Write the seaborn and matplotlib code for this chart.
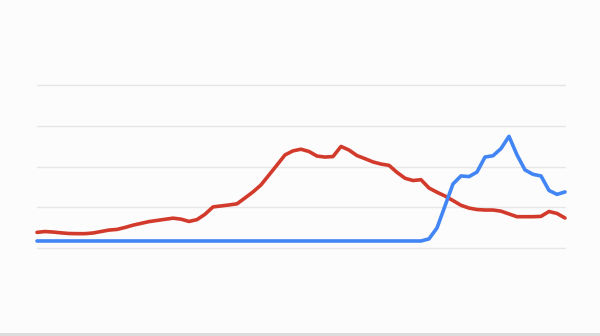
import numpy as np
import pandas as pd
import matplotlib
matplotlib.use("Agg")
import matplotlib.pyplot as plt
import seaborn as sns
from matplotlib.patches import Rectangle

# Data (values on a 0-100 scale)
red_values = [9.6, 10.1, 9.8, 9.3, 8.9, 8.8, 8.8, 9.2, 10.1, 11.0,
              11.4, 12.6, 14.0, 15.1, 16.2, 16.9, 17.6, 18.3, 17.7, 16.3,
              17.4, 20.7, 25.2, 25.8, 26.4, 27.1, 30.7, 34.4, 38.7, 44.8,
              50.9, 57.1, 59.6, 60.6, 59.2, 56.4, 55.8, 56.1, 62.3, 60.1,
              56.7, 54.8, 52.8, 51.5, 50.7, 46.4, 42.8, 41.4, 41.9, 36.8,
              34.2, 31.9, 29.1, 26.2, 24.5, 23.6, 23.3, 23.3, 22.6, 20.9,
              19.2, 19.2, 19.2, 19.4, 22.4, 21.2, 18.4]
blue_values = [4.3] * 49 + [5.6, 12.3, 25.8, 39.3, 44.2, 43.8, 46.6, 55.8, 56.6,
                            61.0, 68.5, 57.1, 47.9, 45.2, 44.2, 35.3, 32.9, 34.4]
periods = list(range(len(red_values)))
series_names = ["Red", "Blue"]
gridline_values = [0, 25, 50, 75, 100]

df = pd.DataFrame({
    "period": periods + periods,
    "value": red_values + blue_values,
    "series": [series_names[0]] * len(periods) + [series_names[1]] * len(periods),
})

sns.set_theme(style="white")
fig = plt.figure(figsize=(6, 3.36), dpi=100)
fig.patch.set_facecolor("#fcfcfc")
ax = fig.add_axes([37 / 600, (336 - 248) / 336, 528 / 600, (248 - 85) / 336])
ax.set_facecolor("#fcfcfc")

for g in gridline_values:
    ax.axhline(g, color="#e6e6e6", lw=1, zorder=0)

sns.lineplot(data=df, x="period", y="value", hue="series",
             palette={"Red": "#d23a2c", "Blue": "#4285f4"},
             hue_order=["Red", "Blue"],
             linewidth=2.6, ax=ax, legend=False)
for line in ax.lines:
    line.set_clip_on(False)
    line.set_solid_capstyle("round")
    line.set_solid_joinstyle("round")

ax.set_xlim(0, len(periods) - 1)
ax.set_ylim(0, 100)
ax.set_xlabel("")
ax.set_ylabel("")
ax.set_xticks([])
ax.set_yticks([])
for s in ax.spines.values():
    s.set_visible(False)

fig.patches.append(Rectangle((0, 0), 1, 3 / 336, transform=fig.transFigure,
                             facecolor="#dcdcdc", edgecolor="none"))

fig.savefig("out.png", dpi=100, facecolor=fig.get_facecolor())
